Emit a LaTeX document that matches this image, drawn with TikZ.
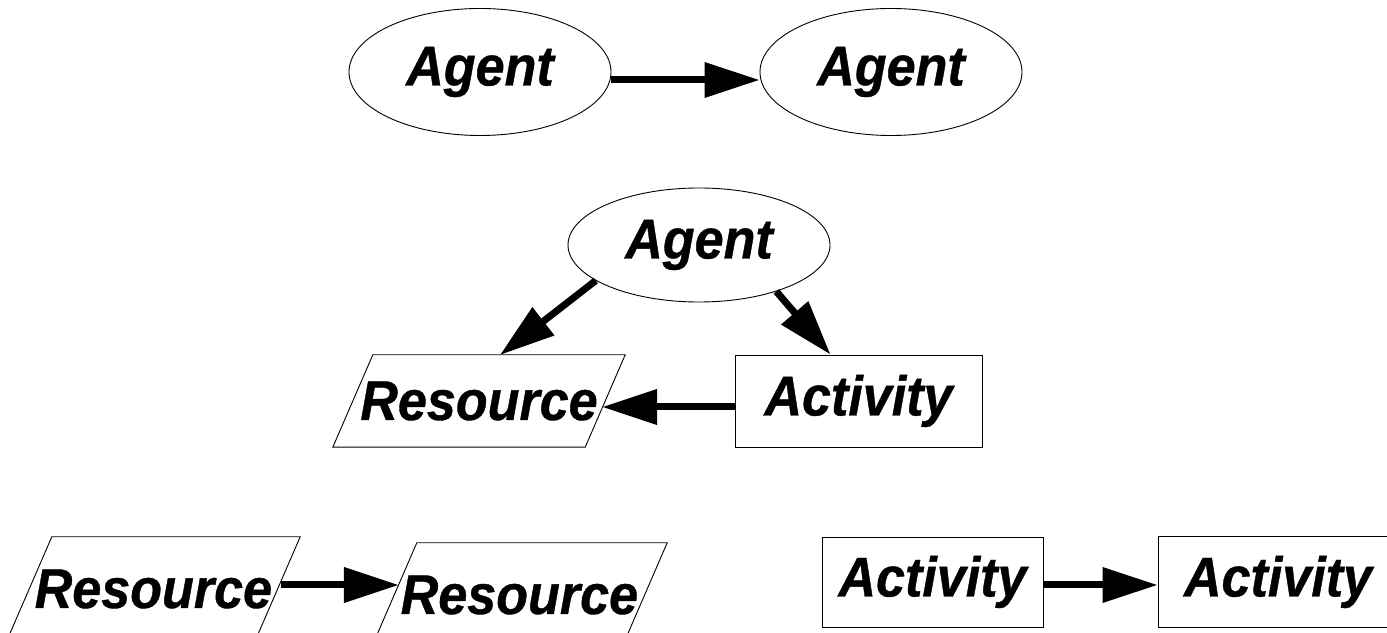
\documentclass[tikz,border=0pt]{standalone}
\usepackage{fontspec}
\setmainfont{Liberation Sans}[FakeStretch=0.93, BoldItalicFeatures={FakeBold=0.7}]
\usetikzlibrary{shapes.geometric,arrows.meta,calc}
\begin{document}
\begin{tikzpicture}[x=1pt,y=1pt,
  lbl/.style={font=\fontsize{56}{64}\selectfont\bfseries\itshape, inner sep=0pt},
  agentnode/.style={lbl, draw, line width=0.9pt, ellipse, minimum width=262pt, minimum height=127pt},
  resnode/.style={lbl, rectangle, minimum width=252pt, minimum height=92pt},
  actnode/.style={lbl, draw, line width=0.9pt, rectangle, minimum width=247pt, minimum height=92pt},
  shapeline/.style={line width=0.9pt},
  bigarrow/.style={line width=7pt, -{Triangle[length=55pt,width=34pt]}}
]
\useasboundingbox (0,0) rectangle (1387,632);
\clip (0,0) rectangle (1387,632);
% top row
\node[agentnode] (a1) at (480,560) {Agent};
\node[agentnode] (a2) at (891,560) {Agent};
% middle group
\node[agentnode, minimum height=114pt] (a3) at (699,387) {Agent};
\node[resnode] (res) at (479,231) {Resource};
\draw[shapeline] ([xshift=20pt]res.north west) -- ([xshift=20pt]res.north east)
   -- ([xshift=-20pt]res.south east) -- ([xshift=-20pt]res.south west) -- cycle;
\node[actnode] (act) at (858.5,231) {Activity};
% bottom row
\node[resnode, minimum width=248pt, minimum height=104pt] (r1) at (153.4,43) {Resource};
\draw[shapeline] ([xshift=22.6pt]r1.north west) -- ([xshift=22.6pt]r1.north east)
   -- ([xshift=-22.6pt]r1.south east) -- ([xshift=-22.6pt]r1.south west) -- cycle;
\node[resnode, minimum width=250pt, minimum height=104pt] (r2) at (519.4,37) {Resource};
\draw[shapeline] ([xshift=22.6pt]r2.north west) -- ([xshift=22.6pt]r2.north east)
   -- ([xshift=-22.6pt]r2.south east) -- ([xshift=-22.6pt]r2.south west) -- cycle;
\node[actnode, minimum width=221pt, minimum height=90pt] (act1) at (932.5,50) {Activity};
\node[actnode, minimum width=240pt, minimum height=91pt] (act2) at (1278,50) {Activity};
% connectors
\draw[bigarrow] ([yshift=-8pt]a1.east) -- ([yshift=-8pt]a2.west);
\draw[bigarrow] (a3.199) -- ($(res.center)+(21,46)$);
\draw[bigarrow] (a3.329) -- ($(act.north)+(-28,0)$);
\draw[bigarrow] ([yshift=-6pt]act.west) -- ($(res.center)+(123,-6)$);
\draw[bigarrow] ($(r1.center)+(127.6,4)$) -- ($(r2.center)+(-120.5,10)$);
\draw[bigarrow] ([yshift=-3pt]act1.east) -- ([yshift=-3pt]act2.west);
\end{tikzpicture}
\end{document}
